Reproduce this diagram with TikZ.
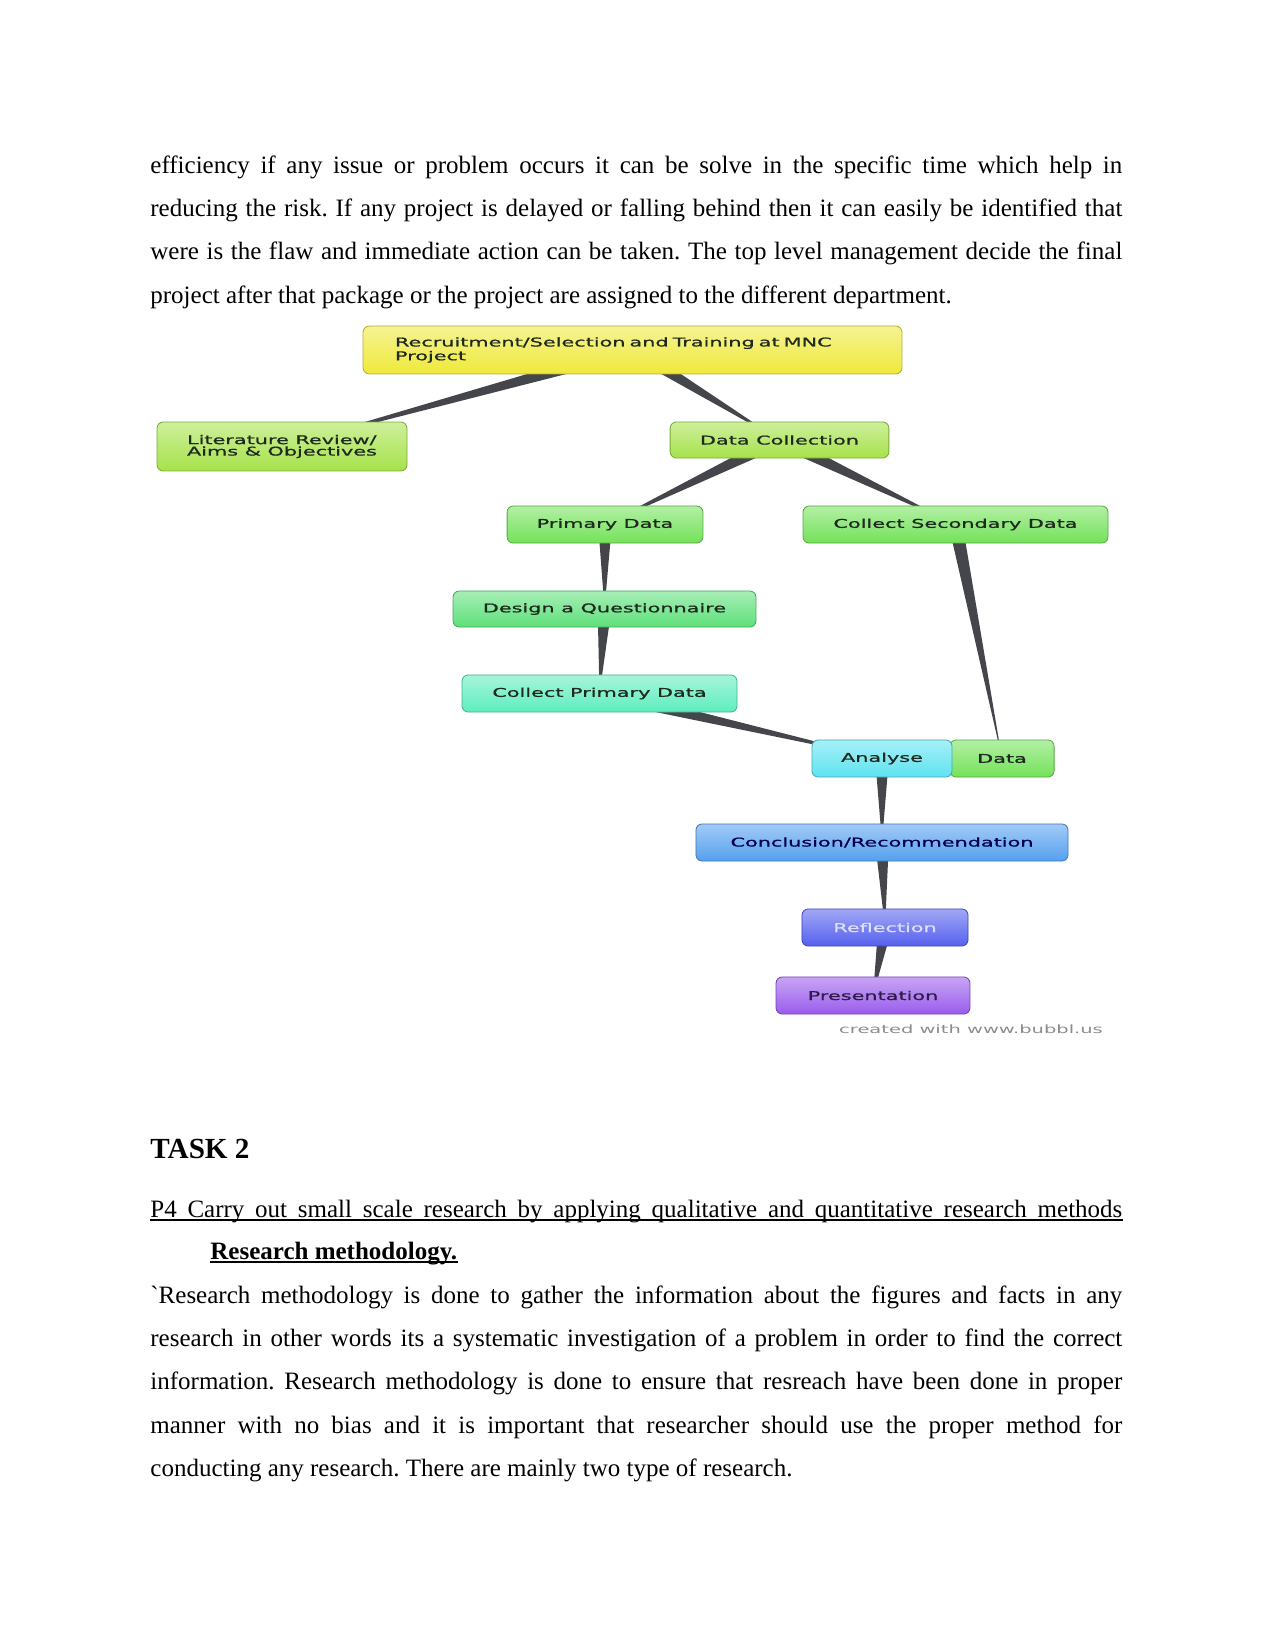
\documentclass[tikz,border=0pt]{standalone}
\usepackage{fontspec}
\setmainfont{Liberation Serif}
\newfontfamily\bubblefont[FakeStretch=1.72,FakeBold=0.9]{DejaVu Sans}
\newfontfamily\creditfont[FakeStretch=1.7]{DejaVu Sans}
\usetikzlibrary{calc,backgrounds}
\frenchspacing

\definecolor{topyellow}{HTML}{EFE93A}
\definecolor{lime}{HTML}{A6E24A}
\definecolor{leaf}{HTML}{74E25A}
\definecolor{mint}{HTML}{5EE07A}
\definecolor{aqua}{HTML}{5EEDBE}
\definecolor{skycyan}{HTML}{5EE3F0}
\definecolor{sky}{HTML}{55A0EE}
\definecolor{indigo}{HTML}{5560EE}
\definecolor{violet}{HTML}{9A5CEC}
\definecolor{wedgegray}{HTML}{45464C}
\definecolor{bubbletext}{HTML}{1E2A1E}

\begin{document}
\begin{tikzpicture}[x=0.48pt, y=-0.48pt,
  line/.style={anchor=base west, inner sep=0pt, font=\fontsize{12}{14}\selectfont},
  uline/.style={line width=0.6pt},
  bubble/.style={rounded corners=3pt, draw=#1!75!black, top color=#1!55!white,
    bottom color=#1, minimum height=17.8pt, inner sep=2pt, text=bubbletext,
    font=\bubblefont\fontsize{5.8}{5.5}\selectfont},
  wedge/.style={fill=wedgegray}]
  \useasboundingbox (0,0) rectangle (1275,1651);

  % text above the chart
  \node[line] (p1a) at (150,174) {\makebox[466.5pt][s]{efficiency if any issue or problem occurs it can be solve in the specific time which help in}};
  \node[line] (p1b) at (150,217) {\makebox[466.5pt][s]{reducing the risk. If any project is delayed or falling behind then it can easily be identified that}};
  \node[line] (p1c) at (150,260) {\makebox[466.5pt][s]{were is the flaw and immediate action can be taken. The top level management decide the final}};
  \node[line] (p1d) at (150,303) {project after that package or the project are assigned to the different department.};

  % chart boxes
  \node[bubble=topyellow, minimum width=258.7pt, minimum height=23pt, text width=228pt, align=left]
    (project) at (632.5,350) {Recruitment/Selection and Training at MNC\\Project};
  \node[bubble=lime, minimum width=120pt, minimum height=23.5pt, align=left]
    (litrev) at (282,446.5) {Literature Review/\\Aims \& Objectives};
  \node[bubble=lime, minimum width=105pt, minimum height=17.3pt] (dcoll) at (779.5,440) {Data Collection};
  \node[bubble=leaf, minimum width=94pt] (prim) at (605,524.5) {Primary Data};
  \node[bubble=leaf, minimum width=146.4pt] (secdata) at (955.5,524.5) {Collect Secondary Data};
  \node[bubble=mint, minimum width=145.4pt, minimum height=17.3pt] (quest) at (604.5,609) {Design a Questionnaire};
  \node[bubble=aqua, minimum width=132pt] (cprim) at (599.5,693.5) {Collect Primary Data};
  \node[bubble=leaf, minimum width=50pt] (data) at (1002,758.5) {Data};
  \node[bubble=skycyan, minimum width=67.2pt] (analyse) at (882,758.5) {Analyse};
  \node[bubble=sky, minimum width=178.6pt, text=blue!30!black] (concl) at (882,842.5) {Conclusion/Recommendation};
  \node[bubble=indigo, minimum width=79.7pt, text=indigo!20!white] (reflect) at (885,927.5) {Reflection};
  \node[bubble=violet, minimum width=93.1pt, text=violet!30!black] (present) at (873,995.5) {Presentation};
  \node[text=black!45, font=\creditfont\fontsize{5.5}{7}\selectfont] (credit) at (971,1029) {created with www.bubbl.us};

  % tapered links
  \begin{scope}[on background layer]
    \foreach \from/\to in {project/litrev, project/dcoll, dcoll/prim, dcoll/secdata, prim/quest,
        quest/cprim, cprim/analyse, secdata/data, analyse/concl, concl/reflect, reflect/present}
      \fill[wedge] ($(\from.center)!3.3pt!90:(\to.center)$) -- ($(\from.center)!3.3pt!-90:(\to.center)$)
        -- (\to.center) -- cycle;
  \end{scope}

  % text below the chart
  \node[line, font=\bfseries\fontsize{14}{16}\selectfont] (task) at (150,1158) {TASK 2};
  \node[line] (p4) at (150,1217) {\makebox[466.5pt][s]{P4 Carry out small scale research by applying qualitative and quantitative research methods}};
  \draw[uline] ([yshift=-1.4pt]p4.base west) -- ([yshift=-1.4pt]p4.base east);
  \node[line, font=\bfseries\fontsize{12}{14}\selectfont] (rmhead) at (210,1259) {Research methodology.};
  \draw[uline] ([yshift=-1.4pt]rmhead.base west) -- ([yshift=-1.4pt]rmhead.base east);
  \node[line] (p2a) at (150,1303) {\makebox[466.5pt][s]{\textasciigrave Research methodology is done to gather the information about the figures and facts in any}};
  \node[line] (p2b) at (150,1346) {\makebox[466.5pt][s]{research in other words its a systematic investigation of a problem in order to find the correct}};
  \node[line] (p2c) at (150,1389.5) {\makebox[466.5pt][s]{information. Research methodology is done to ensure that resreach have been done in proper}};
  \node[line] (p2d) at (150,1433) {\makebox[466.5pt][s]{manner with no bias and it is important that researcher should use the proper method for}};
  \node[line] (p2e) at (150,1476) {conducting any research. There are mainly two type of research.};
\end{tikzpicture}
\end{document}
